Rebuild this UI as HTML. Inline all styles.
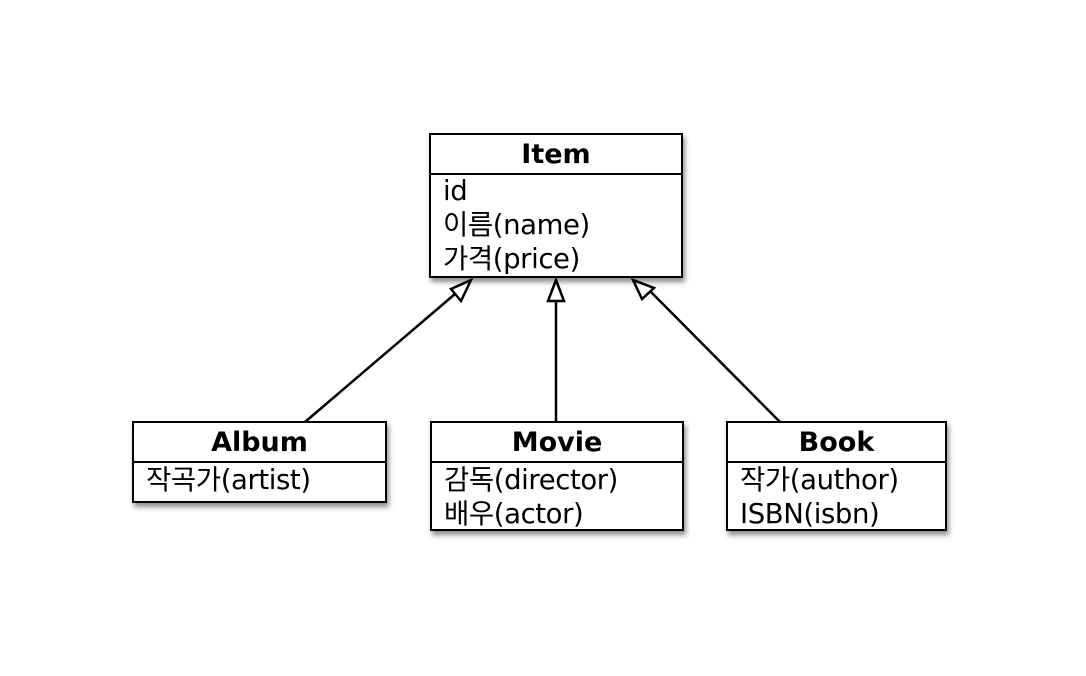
<!DOCTYPE html>
<html><head><meta charset="utf-8"><style>
body{margin:0;width:1086px;height:676px;background:#fff;position:relative;overflow:hidden;font-family:"DejaVu Sans","Noto Sans CJK KR","NanumGothic",sans-serif;}
.b{position:absolute;border:2px solid #000;background:#fff;box-shadow:2px 4px 5px rgba(0,0,0,0.45);box-sizing:border-box;}
.h{height:38px;border-bottom:2px solid #000;text-align:center;font-weight:bold;font-size:27px;line-height:40px;}
.r{font-size:27.5px;line-height:34px;padding-left:12px;white-space:nowrap;letter-spacing:-0.4px}
svg{position:absolute;left:0;top:0}
</style></head><body>
<svg width="1086" height="676">
<g stroke="#000" stroke-width="2.5" fill="#fff">
<line x1="305" y1="422" x2="462" y2="288"/>
<line x1="556" y1="422" x2="556" y2="300"/>
<line x1="780" y1="422" x2="647" y2="288"/>
<polygon points="471,280 451,289 461,301"/>
<polygon points="556,280 548,301 564,301"/>
<polygon points="633,280 642,299 654,288"/>
</g></svg>
<div class="b" style="left:429px;top:133px;width:254px;height:145px"><div class="h">Item</div>
<div class="r" style="margin-top:-1px">id<br>이름(name)<br>가격(price)</div></div>
<div class="b" style="left:132px;top:421px;width:255px;height:82px"><div class="h">Album</div><div class="r">작곡가(artist)</div></div>
<div class="b" style="left:430px;top:421px;width:254px;height:110px"><div class="h">Movie</div><div class="r">감독(director)<br>배우(actor)</div></div>
<div class="b" style="left:726px;top:421px;width:221px;height:110px"><div class="h">Book</div><div class="r">작가(author)<br>ISBN(isbn)</div></div>
</body></html>
